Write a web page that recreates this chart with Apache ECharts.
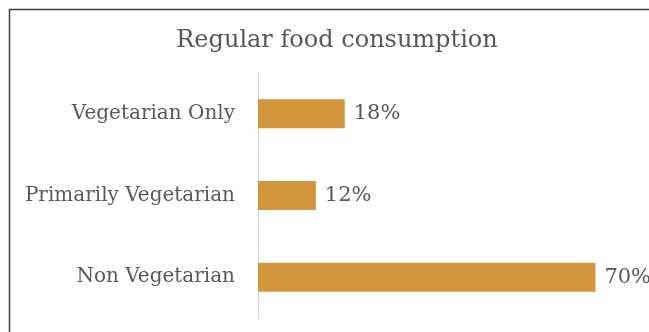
<!DOCTYPE html>
<html>
<head>
<meta charset="utf-8">
<script src="https://cdn.jsdelivr.net/npm/echarts@6/dist/echarts.min.js"></script>
<style>
  html, body { margin: 0; padding: 0; background: #fff; }
  #chart { width: 649px; height: 332px; }
</style>
</head>
<body>
<div id="chart"></div>
<script>
// Share of respondents by regular food consumption (percent)
const categories = ['Non Vegetarian', 'Primarily Vegetarian', 'Vegetarian Only'];
const shares = [70, 12, 18];

const FONT = '"DejaVu Serif", "Liberation Serif", serif';
const TEXT = '#595959';

const chart = echarts.init(document.getElementById('chart'), null, { renderer: 'canvas' });
chart.setOption({
  backgroundColor: '#ffffff',
  animation: false,
  title: {
    text: 'Regular food consumption',
    left: 332,
    textAlign: 'center',
    top: 24,
    textStyle: { fontFamily: FONT, fontSize: 24, fontWeight: 'normal', color: TEXT }
  },
  graphic: [{
    type: 'rect',
    shape: { x: 9.5, y: 9.5, width: 700, height: 400 },
    style: { fill: 'none', stroke: '#404040', lineWidth: 1.5 },
    silent: true
  }],
  grid: { left: 258, right: 53.6, top: 73, bottom: 14, containLabel: false },
  xAxis: {
    type: 'value',
    min: 0,
    max: 70,
    show: false
  },
  yAxis: {
    type: 'category',
    data: categories,
    axisLine: { show: true, lineStyle: { color: '#D9D9D9', width: 1 } },
    axisTick: { show: false },
    axisLabel: { margin: 23, fontFamily: FONT, fontSize: 20, color: TEXT, padding: [6, 0, 0, 0] }
  },
  series: [{
    type: 'bar',
    data: shares,
    barWidth: 29,
    itemStyle: { color: '#D3953B' },
    label: {
      show: true,
      position: 'right',
      distance: 9,
      formatter: '{c}%',
      fontFamily: FONT,
      fontSize: 21,
      color: TEXT,
      padding: [6, 0, 0, 0]
    }
  }]
});
</script>
</body>
</html>
